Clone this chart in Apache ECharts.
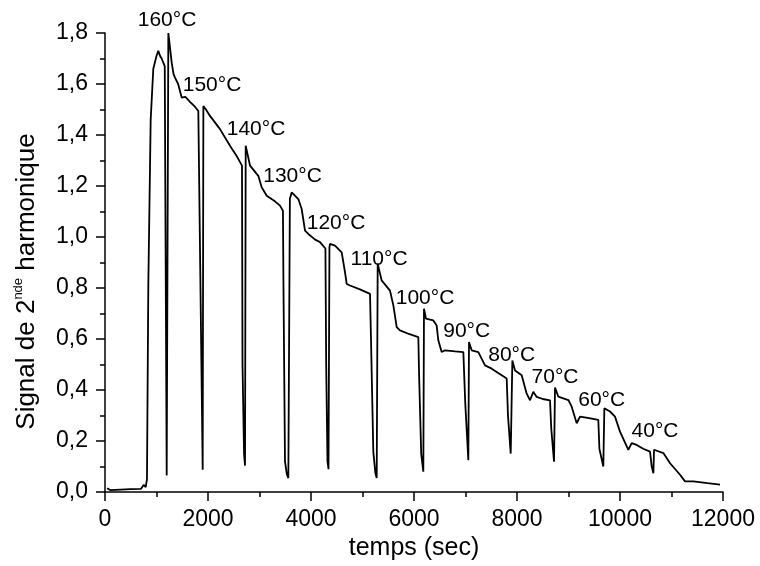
<!DOCTYPE html>
<html>
<head>
<meta charset="utf-8">
<title>Signal de 2nde harmonique</title>
<script src="https://cdn.jsdelivr.net/npm/echarts@6/dist/echarts.min.js"></script>
<style>
  html, body { margin: 0; padding: 0; background: #fff; }
  #chart { width: 760px; height: 566px; }
</style>
</head>
<body>
<div id="chart"></div>
<script>
// temps (sec) et signal
var timeSec = [
  40, 60, 100, 300, 500, 700, 750, 790, 815, 841, 887, 938, 1000, 1035, 1070, 1100, 1140, 1160,
  1198, 1230, 1295, 1330, 1359, 1390, 1420, 1489, 1560, 1650, 1750, 1812, 1845,
  1897, 1910, 1960, 2039, 2233, 2427, 2550, 2660,
  2670, 2700, 2719, 2732, 2816, 2977, 3042, 3140, 3300, 3398, 3455,
  3465, 3495, 3530, 3560, 3590, 3625, 3657, 3754, 3819, 3884, 3948, 4080, 4175, 4280,
  4295, 4320, 4340, 4358, 4369, 4466, 4596, 4660, 4693, 4757, 4950, 5146,
  5165, 5210, 5250, 5276, 5295, 5372, 5534, 5599, 5664, 5728, 5900, 6084,
  6100, 6140, 6181, 6194, 6233, 6375, 6440, 6472, 6537, 6602, 6800, 6958,
  6995, 7055, 7068, 7120, 7249, 7379, 7509, 7650, 7800,
  7825, 7878, 7910, 7962, 8091, 8188, 8253, 8317, 8382, 8500, 8641,
  8665, 8719, 8738, 8803, 8997, 9062, 9159, 9224, 9400, 9579,
  9600, 9676, 9696, 9806, 9903, 10000, 10162, 10227, 10324, 10450, 10583,
  10616, 10648, 10661, 10680, 10842, 10972, 11166, 11263, 11424, 11700, 11942
];
var signal = [
  0.015, 0.022, 0.008, 0.010, 0.012, 0.013, 0.028, 0.020, 0.050, 0.81, 1.46, 1.66, 1.71, 1.73, 1.71, 1.70, 1.68, 1.67,
  0.065, 1.80, 1.684, 1.64, 1.625, 1.63, 1.60, 1.547, 1.55, 1.53, 1.51, 1.494, 1.49,
  0.088, 1.514, 1.50, 1.475, 1.423, 1.358, 1.32, 1.28,
  0.50, 0.15, 0.104, 1.358, 1.28, 1.24, 1.195, 1.162, 1.14, 1.123, 1.103,
  0.82, 0.12, 0.07, 0.055, 1.15, 1.175, 1.175, 1.149, 1.11, 1.025, 1.012, 0.99, 0.98, 0.955,
  0.50, 0.12, 0.09, 0.96, 0.973, 0.966, 0.94, 0.862, 0.816, 0.81, 0.795, 0.777,
  0.60, 0.158, 0.075, 0.055, 0.895, 0.83, 0.79, 0.732, 0.647, 0.634, 0.62, 0.608,
  0.45, 0.15, 0.08, 0.719, 0.68, 0.673, 0.653, 0.595, 0.549, 0.556, 0.552, 0.549,
  0.35, 0.125, 0.588, 0.556, 0.549, 0.497, 0.484, 0.465, 0.445,
  0.30, 0.151, 0.516, 0.477, 0.458, 0.386, 0.36, 0.393, 0.373, 0.365, 0.36,
  0.25, 0.119, 0.41, 0.374, 0.361, 0.335, 0.27, 0.296, 0.29, 0.283,
  0.17, 0.10, 0.329, 0.316, 0.296, 0.237, 0.166, 0.192, 0.185, 0.17, 0.159,
  0.10, 0.074, 0.166, 0.166, 0.153, 0.113, 0.068, 0.042, 0.042, 0.035, 0.029
];

// étiquettes de température (position du centre du texte)
var tempLabels = ['160°C', '150°C', '140°C', '130°C', '120°C', '110°C', '100°C', '90°C', '80°C', '70°C', '60°C', '40°C'];
var labelTime = [1204, 2078, 2932, 3641, 4486, 5321, 6214, 7023, 7897, 8738, 9645, 10680];
var labelSignal = [1.849, 1.595, 1.423, 1.24, 1.055, 0.914, 0.76, 0.629, 0.538, 0.45, 0.361, 0.237];

var FONT = '"Liberation Sans", Arial, sans-serif';

var curve = [];
for (var i = 0; i < timeSec.length; i++) {
  curve.push([timeSec[i], signal[i]]);
}
var labelData = [];
for (var j = 0; j < tempLabels.length; j++) {
  labelData.push({ name: tempLabels[j], value: [labelTime[j], labelSignal[j]] });
}

var axisCommon = {
  type: 'value',
  axisLine: { show: true, lineStyle: { color: '#000', width: 1.5 } },
  axisTick: { show: true, inside: false, length: 9, lineStyle: { color: '#000', width: 1.5 } },
  minorTick: { show: true, splitNumber: 2, length: 5, lineStyle: { color: '#000', width: 1.5 } },
  splitLine: { show: false },
  minorSplitLine: { show: false }
};

var myChart = echarts.init(document.getElementById('chart'));
var option = {
  animation: false,
  backgroundColor: '#fff',
  grid: { left: 105, right: 37, top: 33, bottom: 72 },
  xAxis: Object.assign({}, axisCommon, {
    min: 0,
    max: 12000,
    interval: 2000,
    axisLabel: {
      color: '#000', fontSize: 23, fontFamily: FONT, margin: 16,
      formatter: function (v) { return String(v); }
    },
    name: 'temps (sec)',
    nameLocation: 'middle',
    nameGap: 42,
    nameTextStyle: { color: '#000', fontSize: 25, fontFamily: FONT }
  }),
  yAxis: Object.assign({}, axisCommon, {
    min: 0,
    max: 1.8,
    interval: 0.2,
    axisLabel: {
      color: '#000', fontSize: 23, fontFamily: FONT, margin: 17,
      formatter: function (v) { return v.toFixed(1).replace('.', ','); }
    },
    name: 'Signal de 2{sup|nde} harmonique',
    nameLocation: 'middle',
    nameGap: 64,
    nameTextStyle: {
      color: '#000', fontSize: 26, fontFamily: FONT, lineHeight: 29,
      padding: [0, 38, 0, 0],
      rich: {
        sup: { color: '#000', fontSize: 13, fontFamily: FONT, verticalAlign: 'top', lineHeight: 14 }
      }
    }
  }),
  series: [
    {
      type: 'line',
      data: curve,
      showSymbol: false,
      symbol: 'none',
      lineStyle: { color: '#000', width: 1.8 },
      silent: true
    },
    {
      type: 'scatter',
      data: labelData,
      symbolSize: 0,
      clip: false,
      silent: true,
      itemStyle: { color: '#000', opacity: 1 },
      label: {
        show: true,
        position: [0, 0],
        align: 'center',
        verticalAlign: 'middle',
        formatter: '{b}',
        color: '#000',
        opacity: 1,
        textBorderWidth: 0,
        fontSize: 21,
        fontFamily: FONT
      }
    }
  ]
};
myChart.setOption(option);
</script>
</body>
</html>
